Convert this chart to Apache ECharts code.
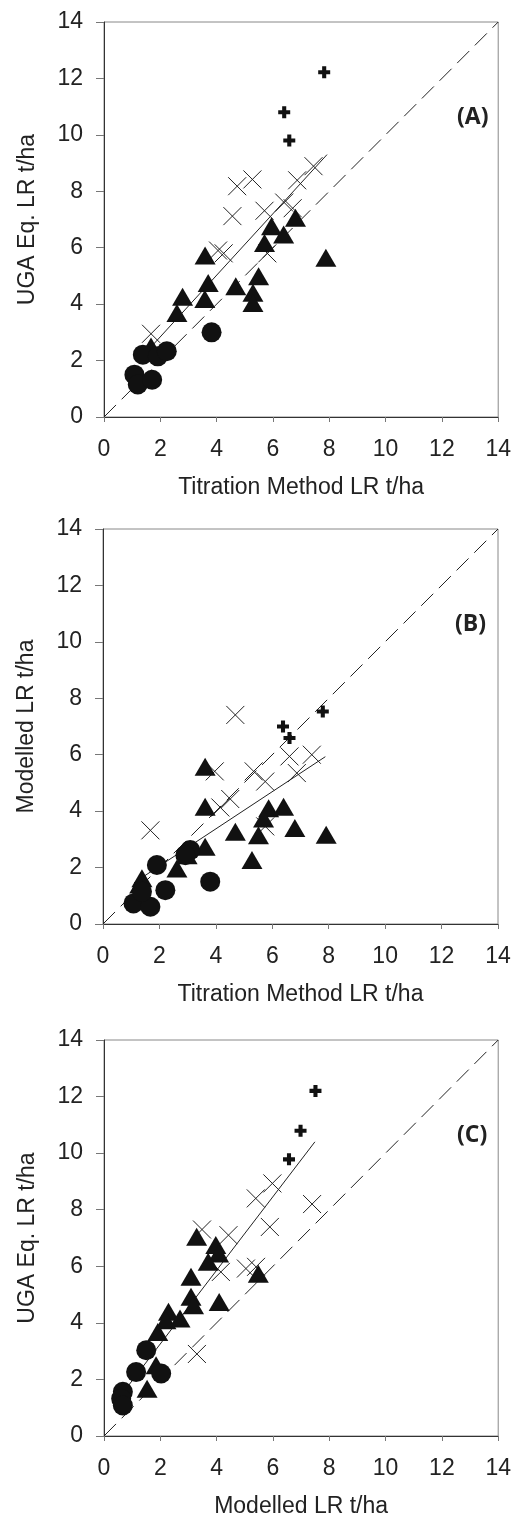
<!DOCTYPE html>
<html>
<head>
<meta charset="utf-8">
<script src="https://cdn.jsdelivr.net/npm/echarts@6/dist/echarts.min.js"></script>
<style>html,body{margin:0;padding:0;background:#fff}#c{width:514px;height:1524px}</style>
</head>
<body>
<div id="c"></div>
<script>
// ---- Data ----
var axisTicks = [0, 2, 4, 6, 8, 10, 12, 14];
var panelLabels = ['(A)', '(B)', '(C)'];
var xTitles = ['Titration Method LR t/ha', 'Titration Method LR t/ha', 'Modelled LR t/ha'];
var yTitles = ['UGA Eq. LR t/ha', 'Modelled LR t/ha', 'UGA Eq. LR t/ha'];

// Panel A: Titration (x) vs UGA (y)
var circlesA = [[1.38,2.21],[1.91,2.15],[2.23,2.33],[1.08,1.50],[1.20,1.15],[1.71,1.32],[3.82,3.00]];
var trianglesA = [[3.59,5.72],[5.95,6.76],[6.80,7.06],[6.38,6.47],[5.70,6.17],[7.88,5.64],[3.70,4.75],[3.58,4.18],[2.79,4.26],[2.59,3.69],[4.68,4.63],[5.49,4.99],[5.29,4.40],[5.29,4.04],[1.67,2.50]];
var crossesA = [[4.73,8.18],[5.27,8.42],[4.56,7.12],[5.70,7.31],[6.86,8.39],[7.44,8.89],[6.40,7.60],[6.70,7.40],[4.05,5.90],[4.25,5.80],[5.80,5.80],[1.67,2.95]];
var plusA = [[7.82,12.22],[6.40,10.80],[6.58,9.80]];
var fitA = [[1.2,1.97],[7.92,9.30]];

// Panel B: Titration (x) vs Modelled (y)
var circlesB = [[3.09,2.62],[2.92,2.44],[1.91,2.09],[2.21,1.20],[3.80,1.50],[1.08,0.73],[1.68,0.61],[1.38,1.14]];
var trianglesB = [[3.62,5.57],[3.62,4.16],[4.69,3.27],[5.28,2.27],[5.51,3.15],[5.87,4.10],[5.69,3.74],[6.40,4.16],[6.80,3.40],[7.91,3.16],[3.62,2.74],[2.62,1.97],[2.98,2.44],[1.38,1.62],[1.30,1.40]];
var crossesB = [[4.69,7.41],[1.68,3.32],[3.96,5.41],[5.34,5.41],[5.75,5.05],[4.51,4.43],[4.16,4.13],[6.61,5.94],[7.40,6.00],[6.87,5.35],[5.75,3.46]];
var plusB = [[7.79,7.53],[6.38,7.00],[6.61,6.59]];
var fitB = [[1.1,1.46],[7.88,5.93]];

// Panel C: Modelled (x) vs UGA (y)
var circlesC = [[1.50,3.03],[1.14,2.26],[2.03,2.21],[0.67,1.56],[0.61,1.32],[0.67,1.08]];
var trianglesC = [[3.29,7.04],[3.97,6.75],[4.07,6.45],[3.70,6.16],[3.09,5.63],[3.09,4.92],[3.18,4.62],[4.09,4.74],[2.29,4.39],[2.70,4.15],[2.20,4.09],[1.91,3.68],[5.48,5.74],[1.85,2.50],[1.53,1.67]];
var crossesC = [[5.98,8.93],[5.39,8.40],[7.39,8.20],[5.89,7.39],[3.48,7.30],[4.42,7.10],[4.15,5.80],[5.04,5.92],[5.40,5.98],[3.30,2.90]];
var plusC = [[7.51,12.20],[6.98,10.79],[6.57,9.78]];
var fitC = [[0.65,1.50],[7.49,10.40]];

var oneToOne = [[0,0],[14,14]];

var panels = [
  {circles: circlesA, triangles: trianglesA, crosses: crossesA, plus: plusA, fit: fitA},
  {circles: circlesB, triangles: trianglesB, crosses: crossesB, plus: plusB, fit: fitB},
  {circles: circlesC, triangles: trianglesC, crosses: crossesC, plus: plusC, fit: fitC}
];

// ---- Layout ----
var grids = [
  {left: 104, top: 22, width: 396, height: 395},
  {left: 103, top: 529, width: 395, height: 395},
  {left: 104, top: 1040, width: 396, height: 396}
];

var FONT = 'Liberation Sans';
var TXT = '#222';
var AXC = '#333';

var xAxes = [], yAxes = [], series = [], graphics = [];
grids.forEach(function (g, i) {
  g.show = true; g.borderColor = '#888'; g.borderWidth = 1; g.containLabel = false;
  var common = {
    gridIndex: i, type: 'value', min: axisTicks[0], max: axisTicks[axisTicks.length - 1],
    interval: axisTicks[1] - axisTicks[0],
    splitLine: {show: false},
    axisLine: {show: true, onZero: false, lineStyle: {color: AXC, width: 1}},
    nameLocation: 'middle',
    nameTextStyle: {fontFamily: FONT, fontSize: 23, color: TXT}
  };
  xAxes.push(Object.assign({}, common, {
    name: xTitles[i], nameGap: 59,
    axisTick: {show: true, inside: false, length: 5, lineStyle: {color: '#777'}},
    axisLabel: {fontFamily: FONT, fontSize: 23, color: TXT, margin: 21}
  }));
  yAxes.push(Object.assign({}, common, {
    name: yTitles[i], nameGap: 65,
    axisTick: {show: true, inside: false, length: 8, lineStyle: {color: '#777'}},
    axisLabel: {fontFamily: FONT, fontSize: 23, color: TXT, margin: 21}
  }));

  var p = panels[i];
  series.push({
    type: 'line', xAxisIndex: i, yAxisIndex: i, data: oneToOne, showSymbol: false, symbol: 'none',
    lineStyle: {color: '#222', width: 1, type: [17, 8]}, silent: true, z: 1
  });
  series.push({
    type: 'line', xAxisIndex: i, yAxisIndex: i, data: p.fit, showSymbol: false, symbol: 'none',
    lineStyle: {color: '#222', width: 1}, silent: true, z: 1
  });
  series.push({
    type: 'scatter', xAxisIndex: i, yAxisIndex: i, data: p.crosses,
    symbol: 'path://M0,0L10,10M10,0L0,10', symbolSize: 18,
    itemStyle: {color: 'rgba(0,0,0,0)', borderColor: '#222', borderWidth: 1, opacity: 1}, z: 2
  });
  series.push({
    type: 'scatter', xAxisIndex: i, yAxisIndex: i, data: p.triangles,
    symbol: 'triangle', symbolSize: [21, 18],
    itemStyle: {color: '#111', opacity: 1}, z: 3
  });
  series.push({
    type: 'scatter', xAxisIndex: i, yAxisIndex: i, data: p.circles,
    symbol: 'circle', symbolSize: 20,
    itemStyle: {color: '#111', opacity: 1}, z: 4
  });
  series.push({
    type: 'scatter', xAxisIndex: i, yAxisIndex: i, data: p.plus,
    symbol: 'path://M3.3,0H6.7V3.3H10V6.7H6.7V10H3.3V6.7H0V3.3H3.3Z', symbolSize: 12,
    itemStyle: {color: '#111', opacity: 1}, z: 5
  });

  graphics.push({
    type: 'text', left: g.left + g.width - 43, top: g.top + 84,
    style: {text: panelLabels[i], font: 'bold 23px "Open Sans"', fill: '#222'}
  });
});

var chart = echarts.init(document.getElementById('c'), null, {renderer: 'canvas'});
chart.setOption({
  animation: false,
  backgroundColor: '#fff',
  grid: grids,
  xAxis: xAxes,
  yAxis: yAxes,
  series: series,
  graphic: graphics
});
</script>
</body>
</html>
